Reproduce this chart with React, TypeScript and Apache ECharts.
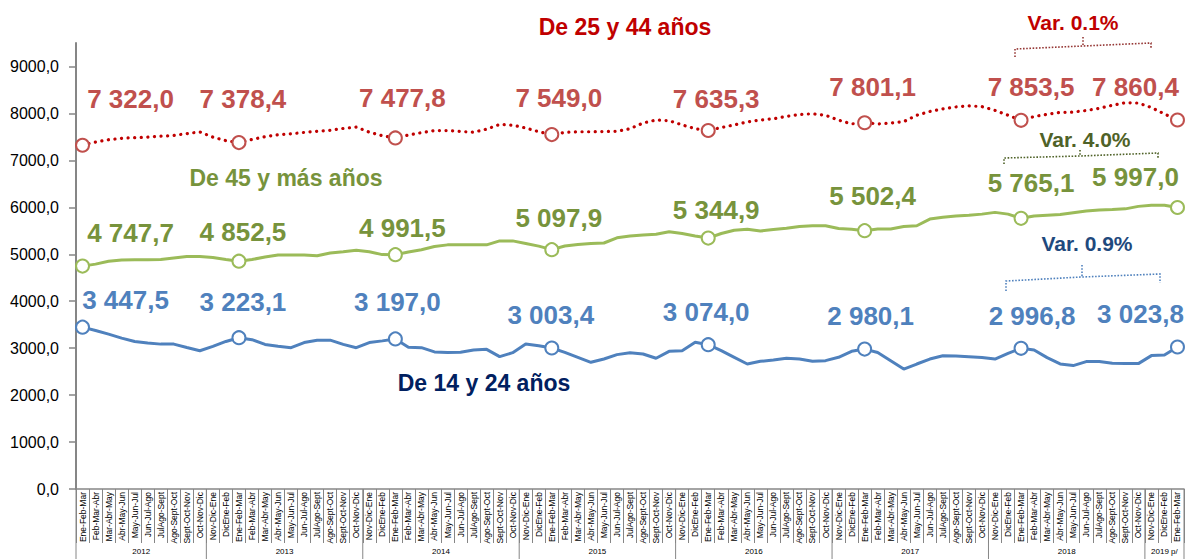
import React, { useEffect, useRef } from "react";
import * as echarts from "echarts";

// ---------- DATA ----------
const periodNames = [
  "Ene-Feb-Mar", "Feb-Mar-Abr", "Mar-Abr-May", "Abr-May-Jun", "May-Jun-Jul", "Jun-Jul-Ago",
  "JulAgo-Sept", "Ago-Sept-Oct", "Sept-Oct-Nov", "Oct-Nov-Dic", "Nov-Dic-Ene", "DicEne-Feb",
];
const categories: string[] = Array.from({ length: 85 }, (_, i) => periodNames[i % 12]);

const yearLabels = ["2012", "2013", "2014", "2015", "2016", "2017", "2018", "2019 p/"];
const yearGroupSizes = [10, 12, 12, 12, 12, 12, 12, 3];

const age25to44 = [
  7322.0, 7390, 7440, 7470, 7485, 7495, 7515, 7530, 7570, 7605, 7495, 7420,
  7378.4, 7445, 7505, 7545, 7565, 7595, 7620, 7640, 7680, 7710, 7600, 7525,
  7477.8, 7540, 7590, 7635, 7635, 7615, 7600, 7665, 7765, 7750, 7690, 7610,
  7549.0, 7595, 7610, 7610, 7615, 7620, 7675, 7795, 7860, 7845, 7755, 7675,
  7635.3, 7700, 7755, 7820, 7860, 7885, 7937, 7977, 7993, 7961, 7857, 7777,
  7801.1, 7777, 7793, 7825, 7961, 8041, 8097, 8137, 8161, 8145, 8065, 7961,
  7853.5, 7933, 7981, 8021, 8029, 8061, 8109, 8173, 8229, 8221, 8125, 7989,
  7860.4,
];

const age45plus = [
  4747.7, 4790, 4850, 4880, 4885, 4885, 4890, 4920, 4950, 4950, 4930, 4890,
  4852.5, 4888, 4943, 4985, 4985, 4985, 4970, 5028, 5055, 5083, 5055, 4993,
  4991.5, 5047, 5096, 5166, 5200, 5200, 5200, 5200, 5285, 5285, 5230, 5173,
  5097.9, 5175, 5210, 5231, 5240, 5350, 5390, 5412, 5427, 5480, 5442, 5390,
  5344.9, 5442, 5510, 5532, 5495, 5525, 5555, 5592, 5607, 5607, 5547, 5532,
  5502.4, 5540, 5540, 5592, 5607, 5750, 5787, 5817, 5832, 5855, 5892, 5855,
  5765.1, 5817, 5832, 5847, 5885, 5922, 5945, 5952, 5967, 6020, 6045, 6045,
  5997.0,
];

const age14to24 = [
  3447.5, 3377, 3299, 3214, 3143, 3108, 3086, 3086, 3015, 2945, 3037, 3143,
  3223.1, 3180, 3080, 3040, 3010, 3120, 3170, 3170, 3080, 3010, 3120, 3155,
  3197.0, 3020, 3010, 2920, 2910, 2911, 2961, 2975, 2819, 2904, 3088, 3053,
  3003.4, 2911, 2805, 2699, 2770, 2862, 2904, 2876, 2784, 2933, 2947, 3124,
  3074.0, 2947, 2805, 2663, 2720, 2748, 2784, 2770, 2720, 2734, 2805, 2933,
  2980.1, 2909, 2732, 2555, 2662, 2768, 2839, 2831, 2817, 2803, 2768, 2888,
  2996.8, 2961, 2798, 2664, 2629, 2714, 2714, 2678, 2671, 2671, 2841, 2855,
  3023.8,
];

const markerIndices = [0, 12, 24, 36, 48, 60, 72, 84];
const yTicks = [0, 1000, 2000, 3000, 4000, 5000, 6000, 7000, 8000, 9000];

// ---------- LAYOUT (label offsets from marker, px) ----------
const redLabelOffsets = [[48, -46], [4, -44], [7, -40], [7, -37], [8, -32], [8, -36], [10, -33], [-42, -33]];
const greenLabelOffsets = [[48, -33], [4, -29], [7, -27], [7, -32], [8, -28], [8, -35], [10, -35], [-42, -30]];
const blueLabelOffsets = [[43, -27], [4, -36], [2, -37], [-1, -33], [-2, -33], [6, -33], [11, -32], [-37, -33]];

const NARROW = "'Liberation Sans Narrow', 'Arial Narrow', 'Liberation Sans', Arial, sans-serif";
const SANS = "'Liberation Sans', Arial, sans-serif";

const fmtValue = (v: number) => {
  const [ip, dp] = v.toFixed(1).split(".");
  return ip.replace(/\B(?=(\d{3})+(?!\d))/g, " ") + "," + dp;
};
const fmtAxis = (v: number) => v.toFixed(1).replace(".", ",");
const varText = (arr: number[]) =>
  "Var. " + ((arr[arr.length - 1] / arr[arr.length - 13] - 1) * 100).toFixed(1) + "%";

function buildSeries(name: string, values: number[], lineColor: string, markerColor: string,
  labelColor: string, offsets: number[][], lineStyleExtra: any) {
  return {
    name,
    type: "line",
    data: values.map((v, i) => {
      const k = markerIndices.indexOf(i);
      if (k < 0) return { value: v, symbol: "none", label: { show: false } };
      return {
        value: v,
        symbol: "circle",
        symbolSize: 13,
        label: { show: true, offset: offsets[k] },
      };
    }),
    showAllSymbol: true,
    lineStyle: { color: lineColor, width: 3, ...lineStyleExtra },
    itemStyle: { color: "#ffffff", borderColor: markerColor, borderWidth: 2 },
    label: {
      position: "inside",
      formatter: (p: any) => fmtValue(p.value),
      color: labelColor,
      fontFamily: NARROW,
      fontWeight: "bold",
      fontSize: 26,
    },
    emphasis: { disabled: true },
    z: 3,
  };
}

function bracket(points: number[][], tick: number[][], color: string) {
  return [
    { type: "polyline", shape: { points }, style: { stroke: color, lineWidth: 1.6, lineDash: [1.6, 1.6], fill: null } },
    { type: "polyline", shape: { points: tick }, style: { stroke: color, lineWidth: 1.6, lineDash: [1.6, 1.6], fill: null } },
  ];
}

function textEl(text: string, x: number, y: number, color: string, size: number) {
  return {
    type: "text",
    x, y,
    style: { text, fill: color, font: `bold ${size}px ${NARROW}`, align: "center", verticalAlign: "middle" },
    z: 10,
  };
}

export default function App() {
  const ref = useRef<HTMLDivElement>(null);

  useEffect(() => {
    if (!ref.current) return;
    const chart = echarts.init(ref.current, null, { renderer: "svg" });
    const option: any = {
      animation: false,
      grid: { left: 76, right: 2, top: 43, bottom: 70, containLabel: false },
      xAxis: {
        type: "category",
        data: categories,
        boundaryGap: true,
        axisLine: { show: true, lineStyle: { color: "#868686", width: 1.5 } },
        axisTick: { show: true, interval: 0, length: 54, lineStyle: { color: "#868686", width: 1 } },
        axisLabel: {
          interval: 0, rotate: 90, margin: 3, fontSize: 8.5, fontFamily: NARROW, color: "#000",
        },
        splitLine: { show: false },
      },
      yAxis: {
        type: "value",
        min: 0,
        max: 9500,
        interval: 1000,
        axisLine: { show: true, lineStyle: { color: "#868686", width: 2 } },
        axisTick: { show: true, length: 7, customValues: yTicks, lineStyle: { color: "#868686", width: 1.5 } },
        axisLabel: {
          customValues: yTicks,
          formatter: (v: number) => fmtAxis(v),
          fontSize: 16, fontFamily: SANS, color: "#000", margin: 17,
        },
        splitLine: { show: false },
      },
      series: [
        buildSeries("De 25 y 44 años", age25to44, "#C00000", "#C0504D", "#C0504D", redLabelOffsets,
          { type: [0.1, 6.5], cap: "round", width: 3.2 }),
        buildSeries("De 45 y más años", age45plus, "#9BBB59", "#9BBB59", "#77933C", greenLabelOffsets, {}),
        buildSeries("De 14 y 24 años", age14to24, "#4F81BD", "#4F81BD", "#4F81BD", blueLabelOffsets, {}),
      ],
    };
    chart.setOption(option);

    const xs = categories.map((_, i) => chart.convertToPixel({ xAxisIndex: 0 }, i) as number);
    const band = xs[1] - xs[0];
    const yBase = chart.convertToPixel({ yAxisIndex: 0 }, 0) as number;
    const graphics: any[] = [];
    let start = 0;
    yearGroupSizes.forEach((n, g) => {
      const left = xs[start] - band / 2;
      const right = xs[start + n - 1] + band / 2;
      graphics.push({ type: "line", shape: { x1: left, y1: yBase, x2: left, y2: 559 }, style: { stroke: "#868686", lineWidth: 1 } });
      graphics.push({
        type: "text", x: (left + right) / 2, y: 551,
        style: { text: yearLabels[g], fill: "#000", font: `8px ${NARROW}`, align: "center", verticalAlign: "middle" },
      });
      if (g === yearGroupSizes.length - 1) {
        graphics.push({ type: "line", shape: { x1: right, y1: yBase, x2: right, y2: 559 }, style: { stroke: "#868686", lineWidth: 1 } });
      }
      start += n;
    });

    graphics.push(textEl("De 25 y 44 años", 625, 27, "#C00000", 23));
    graphics.push(textEl("De 45 y más años", 286, 178, "#77933C", 23));
    graphics.push(textEl("De 14 y 24 años", 484, 383, "#002060", 23));
    graphics.push(textEl(varText(age25to44), 1073, 22, "#C00000", 21));
    graphics.push(textEl(varText(age45plus), 1085, 139, "#4F6228", 21));
    graphics.push(textEl(varText(age14to24), 1087, 243, "#1F497D", 21));
    graphics.push(...bracket([[1015, 57], [1015, 49], [1083, 46], [1151, 43], [1151, 49]], [[1083, 37], [1083, 46]], "#953735"));
    graphics.push(...bracket([[1004, 164], [1004, 158], [1080, 156], [1158, 153], [1158, 158]], [[1080, 150], [1080, 156]], "#4F6228"));
    graphics.push(...bracket([[1006, 291], [1006, 281], [1082, 277], [1160, 274], [1160, 283]], [[1082, 265], [1082, 277]], "#4F81BD"));

    chart.setOption({ graphic: graphics });

    return () => chart.dispose();
  }, []);

  return (
    <div
      ref={ref}
      style={{ position: "absolute", left: 0, top: 0, width: 1186, height: 559, background: "#fff" }}
    />
  );
}
